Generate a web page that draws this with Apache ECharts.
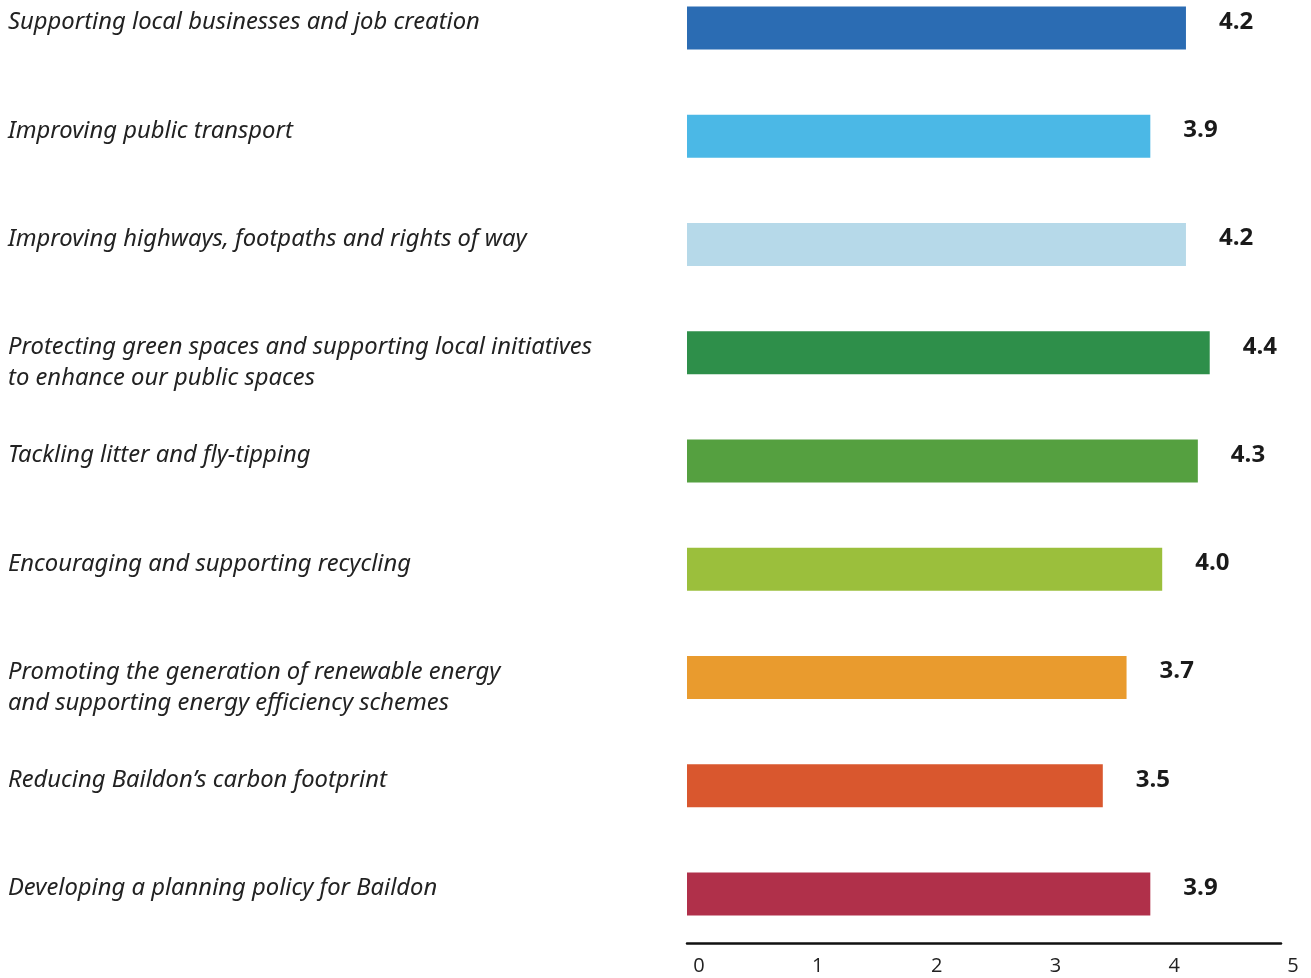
<!DOCTYPE html>
<html><head><meta charset="utf-8">
<script src="https://cdn.jsdelivr.net/npm/echarts@6/dist/echarts.min.js"></script>
<style>html,body{margin:0;padding:0;background:#fff}#c{width:1311px;height:978px}</style>
</head><body><div id="c"></div>
<script>
const categories = [
  'Supporting local businesses and job creation',
  'Improving public transport',
  'Improving highways, footpaths and rights of way',
  'Protecting green spaces and supporting local initiatives\nto enhance our public spaces',
  'Tackling litter and fly-tipping',
  'Encouraging and supporting recycling',
  'Promoting the generation of renewable energy\nand supporting energy efficiency schemes',
  "Reducing Baildon\u2019s carbon footprint",
  'Developing a planning policy for Baildon'
];
const values = [4.2, 3.9, 4.2, 4.4, 4.3, 4.0, 3.7, 3.5, 3.9];
const barColors = ['#2b6cb3', '#4bb8e6', '#b6d9e9', '#2e8f4a', '#55a040', '#9bbf3c', '#e99b2e', '#d9572e', '#b0304a'];
const tickLabels = ['0', '1', '2', '3', '4', '5'];

const chart = echarts.init(document.getElementById('c'), null, {renderer: 'canvas'});
chart.setOption({
  animation: false,
  backgroundColor: '#ffffff',
  grid: {left: 687, width: 594, top: -26, height: 974, containLabel: false, outerBoundsMode: 'none'},
  xAxis: {
    type: 'value', min: 0, max: 5, interval: 1, offset: -5,
    axisLine: {show: true, lineStyle: {color: '#111', width: 2.5}},
    axisTick: {show: false},
    splitLine: {show: false},
    axisLabel: {
      margin: 13, fontSize: 20, color: '#222', fontFamily: 'Open Sans',
      padding: [0, 0, 0, 24],
      formatter: (v) => tickLabels[Math.round(v)]
    }
  },
  yAxis: {
    type: 'category', inverse: true, data: categories,
    axisLine: {show: false}, axisTick: {show: false}, splitLine: {show: false},
    axisLabel: {
      align: 'left', margin: 679, verticalAlign: 'top',
      padding: [-21, 0, 0, 0], lineHeight: 31,
      fontSize: 23.8, fontStyle: 'italic', fontFamily: 'Noto Sans', color: '#222'
    }
  },
  series: [{
    type: 'bar', barWidth: 43,
    data: values.map((v, i) => ({value: v, itemStyle: {color: barColors[i]}})),
    label: {
      show: true, position: 'right', distance: 33, offset: [0, -6],
      fontSize: 24, fontWeight: 'bold', fontFamily: 'Open Sans', color: '#1a1a1a',
      formatter: (p) => p.value.toFixed(1)
    }
  }]
});
</script>
</body></html>
